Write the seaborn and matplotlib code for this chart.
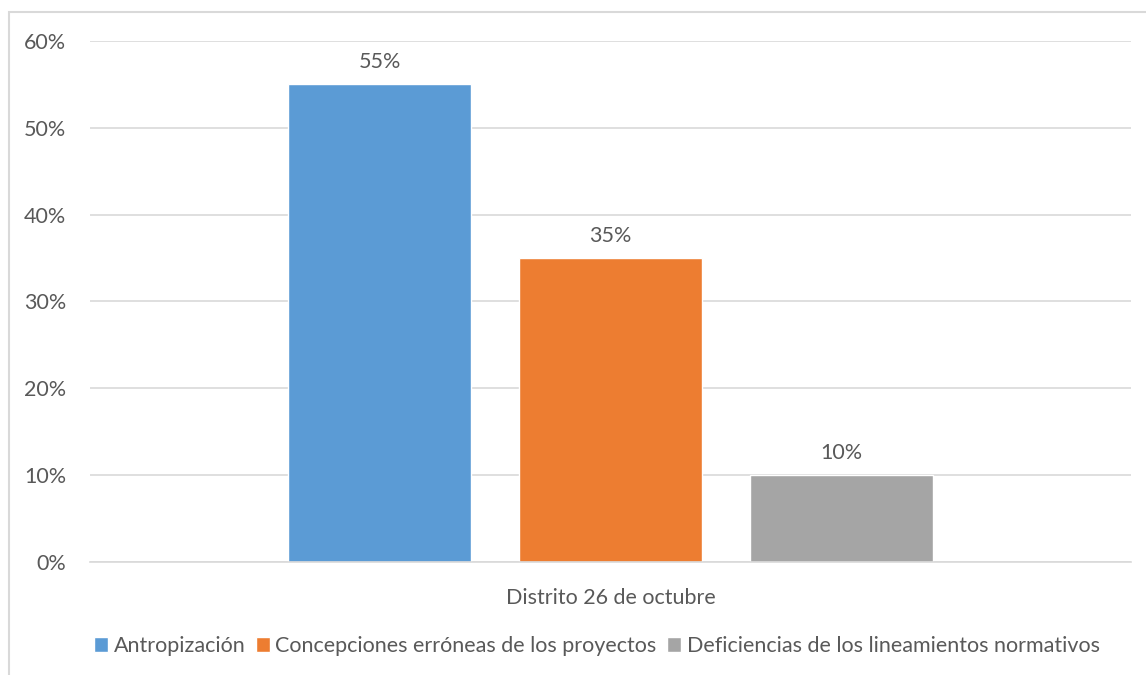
import matplotlib
matplotlib.use("Agg")
import matplotlib.pyplot as plt
import seaborn as sns
import pandas as pd
from matplotlib.patches import Rectangle
from matplotlib.ticker import PercentFormatter

categories = ["Distrito 26 de octubre"]
series = ["Antropización", "Concepciones erróneas de los proyectos", "Deficiencias de los lineamientos normativos"]
values = [0.55, 0.35, 0.10]
colors = ["#5B9BD5", "#ED7D31", "#A5A5A5"]
yticks = [0, 0.1, 0.2, 0.3, 0.4, 0.5, 0.6]

sns.set_theme(style="white")
plt.rcParams['font.family'] = ['Lato', 'DejaVu Sans']
text_color = "#595959"
fs = 15.5

df = pd.DataFrame({"cat": categories * len(series), "serie": series, "val": values})

W, H = 1146, 675
fig = plt.figure(figsize=(W / 100, H / 100), dpi=100)
ax = fig.add_axes([90 / W, 1 - 562 / H, (1131 - 90) / W, (562 - 41) / H])

sns.barplot(data=df, x="cat", y="val", hue="serie", palette=colors, hue_order=series,
            width=0.6657, gap=0.212, ax=ax, legend=True, saturation=1, errorbar=None)

ax.set_xlim(-0.5, 0.5)
ax.set_ylim(0, 0.6)
ax.set_yticks(yticks)
ax.yaxis.set_major_formatter(PercentFormatter(1.0, decimals=0))
ax.grid(axis="y", color="#d9d9d9", linewidth=1.2)
ax.set_axisbelow(True)
for s in ["top", "right", "left"]:
    ax.spines[s].set_visible(False)
ax.spines["bottom"].set_color("#d9d9d9")
ax.spines["bottom"].set_linewidth(1.2)
ax.tick_params(axis="both", length=0, labelsize=fs, colors=text_color)
ax.tick_params(axis="y", pad=17)
ax.tick_params(axis="x", pad=19)
ax.set_xlabel("")
ax.set_ylabel("")

for c in ax.containers:
    ax.bar_label(c, labels=[f"{v*100:.0f}%" for v in c.datavalues], padding=9,
                 fontsize=fs, color=text_color)

leg = ax.legend(loc="center", ncol=3, frameon=False,
                fontsize=fs, handlelength=0.65, handleheight=0.65, handletextpad=0.25,
                columnspacing=0.5)
leg.set_bbox_to_anchor((597 / W, 1 - 646 / H), transform=fig.transFigure)
for t in leg.get_texts():
    t.set_color(text_color)

fig.patches.append(Rectangle((9 / W, -0.1), 2, (H - 12) / H + 0.1, transform=fig.transFigure,
                             fill=False, edgecolor="#d9d9d9", linewidth=1.5, figure=fig))

fig.savefig("out.png", dpi=100)
